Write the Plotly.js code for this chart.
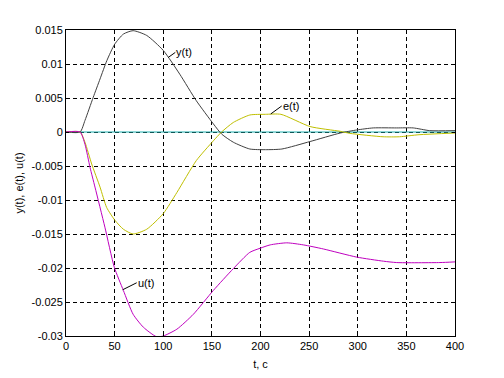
<!DOCTYPE html>
<html>
<head>
<meta charset="utf-8">
<script src="https://cdn.plot.ly/plotly-3.0.1.min.js"></script>
<style>html,body{margin:0;padding:0;background:#fff;}#chart{width:504px;height:378px;}</style>
</head>
<body>
<div id="chart"></div>
<script>
// y(t)
const tY = [0, 14.5, 19.5, 28, 35, 42, 50, 59, 69, 83, 100, 117, 134, 151.5, 160, 172, 189, 205, 222, 251, 282, 299, 316, 340, 357, 374, 400];
const yVals = [0, 0, 0.0017, 0.0051, 0.0078, 0.0105, 0.0129, 0.0144, 0.0149, 0.0142, 0.0120, 0.0085, 0.0046, 0.0012, -0.0003, -0.0015, -0.0025, -0.0026, -0.0025, -0.0014, -0.00015, 0.0003, 0.0006, 0.0006, 0.0006, 0.0002, 0.0002];
// e(t)
const tE = [0, 14.5, 19.5, 26.4, 35, 41.8, 50.4, 59, 69, 83, 100, 114, 134, 151.5, 160, 172, 189, 205, 221, 251, 282, 292, 326, 343, 363, 400];
const eVals = [0, 0, -0.0015, -0.0047, -0.0081, -0.0111, -0.0130, -0.0143, -0.0150, -0.0143, -0.0120, -0.0089, -0.0042, -0.0013, 0, 0.0014, 0.0025, 0.0026, 0.0026, 0.0008, 0.0001, -0.0002, -0.0007, -0.0007, -0.0004, -0.00015];
// u(t)
const tU = [0, 14.5, 19.5, 24.7, 29.8, 40, 49.7, 59, 69, 79.5, 93, 100, 114, 131, 151.5, 172, 189, 199.5, 210, 227, 244, 264.6, 299, 326.5, 340, 384.5, 400];
const uVals = [0, 0, -0.0018, -0.0052, -0.0081, -0.0140, -0.0199, -0.0233, -0.0268, -0.0287, -0.0301, -0.0300, -0.0290, -0.0268, -0.0233, -0.0201, -0.0177, -0.0171, -0.0166, -0.0163, -0.0166, -0.0172, -0.0184, -0.0190, -0.0192, -0.0192, -0.0191];
// reference (zero) line
const tRef = [0, 400];
const refVals = [0, 0];

const xTickVals = [0, 50, 100, 150, 200, 250, 300, 350, 400];
const xTickText = ['0', '50', '100', '150', '200', '250', '300', '350', '400'];
const yTickVals = [-0.03, -0.025, -0.02, -0.015, -0.01, -0.005, 0, 0.005, 0.01, 0.015];
const yTickText = ['-0.03', '-0.025', '-0.02', '-0.015', '-0.01', '-0.005', '0', '0.005', '0.01', '0.015'];

const labelNames = ['y(t)', 'e(t)', 'u(t)'];
const labelT = [105.2, 210.5, 58.3];
const labelV = [0.01097, 0.00265, -0.0232];

const FONT = 'Arial, "Liberation Sans", sans-serif';
const sm = 0.6;
const traces = [
  {x: tRef, y: refVals, mode: 'lines', line: {color: '#1FB0B0', width: 1}, hoverinfo: 'skip'},
  {x: tY, y: yVals, mode: 'lines', line: {color: '#404040', width: 1, shape: 'spline', smoothing: sm}},
  {x: tE, y: eVals, mode: 'lines', line: {color: '#BFBF00', width: 1, shape: 'spline', smoothing: sm}},
  {x: tU, y: uVals, mode: 'lines', line: {color: '#BF00BF', width: 1, shape: 'spline', smoothing: sm}}
];

const offs = [[7, -5], [11, -8], [14, -7]];
const annotations = labelNames.map((n, i) => ({
  x: labelT[i], y: labelV[i], xref: 'x', yref: 'y', text: n,
  showarrow: true, arrowhead: 0, arrowwidth: 1, arrowcolor: '#000',
  ax: offs[i][0], ay: offs[i][1], xanchor: 'left', yanchor: 'middle',
  borderpad: 0, standoff: 0, startstandoff: 0,
  font: {family: FONT, size: 11, color: '#000'}
}));

const axisCommon = {
  showline: true, linecolor: '#000', linewidth: 1, mirror: 'ticks',
  ticks: 'inside', ticklen: 3, tickcolor: '#000',
  showgrid: true, gridcolor: '#000', gridwidth: 1, griddash: '4px,3px',
  zeroline: false, tickfont: {family: FONT, size: 11, color: '#000'}
};

const layout = {
  width: 504, height: 378,
  margin: {l: 66, r: 49, t: 30, b: 42},
  paper_bgcolor: '#fff', plot_bgcolor: '#fff',
  showlegend: false,
  xaxis: Object.assign({}, axisCommon, {
    range: [0, 400], tickvals: xTickVals, ticktext: xTickText,
    title: {text: 't, c', font: {family: FONT, size: 11, color: '#000'}, standoff: 9}
  }),
  yaxis: Object.assign({}, axisCommon, {
    range: [-0.03, 0.015], tickvals: yTickVals, ticktext: yTickText,
    title: {text: 'y(t), e(t), u(t)', font: {family: FONT, size: 11, color: '#000'}, standoff: 5}
  }),
  annotations: annotations
};

Plotly.newPlot('chart', traces, layout, {staticPlot: true, displayModeBar: false});
</script>
</body>
</html>
